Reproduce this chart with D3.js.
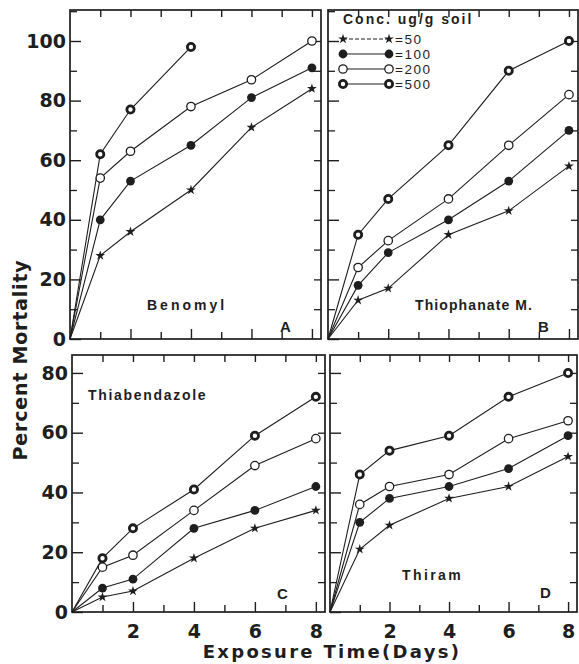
<!DOCTYPE html>
<html>
<head>
<meta charset="utf-8">
<script src="https://cdn.jsdelivr.net/npm/d3@7"></script>
<style>
  body { margin: 0; background: #fff; }
  svg { display: block; }
</style>
</head>
<body>
<div id="container"></div>
<script>
// exposure days (x) for every series
const days = [0, 1, 2, 4, 6, 8];
const concNames = ["50", "100", "200", "500"];
const legendTitle = "Conc. ug/g soil";

// percent mortality
const benomyl50  = [0, 28, 36, 50, 71, 84];
const benomyl100 = [0, 40, 53, 65, 81, 91];
const benomyl200 = [0, 54, 63, 78, 87, 100];
const benomyl500 = [0, 62, 77, 98];            // stops at day 4

const thioph50  = [0, 13, 17, 35, 43, 58];
const thioph100 = [0, 18, 29, 40, 53, 70];
const thioph200 = [0, 24, 33, 47, 65, 82];
const thioph500 = [0, 35, 47, 65, 90, 100];

const thiab50  = [0, 5, 7, 18, 28, 34];
const thiab100 = [0, 8, 11, 28, 34, 42];
const thiab200 = [0, 15, 19, 34, 49, 58];
const thiab500 = [0, 18, 28, 41, 59, 72];

const thiram50  = [0, 21, 29, 38, 42, 52];
const thiram100 = [0, 30, 38, 42, 48, 59];
const thiram200 = [0, 36, 42, 46, 58, 64];
const thiram500 = [0, 46, 54, 59, 72, 80];

const topTicks = [0, 20, 40, 60, 80, 100];
const bottomTicks = [0, 20, 40, 60, 80];
const xLabels = [2, 4, 6, 8];

const ink = "#1e1e1e";

// panel layout
let panels = [
  {name: "Benomyl", letter: "A", left: 70, right: 321, top: 10, bottom: 339, ymax: 110.4,
   series: [benomyl50, benomyl100, benomyl200, benomyl500], ticks: topTicks, labels: true, xlab: false,
   nameX: 147, nameY: 310, nameLS: 3, letterX: 280, letterY: 332},
  {name: "Thiophanate M.", letter: "B", left: 328, right: 578, top: 10, bottom: 339, ymax: 110.4,
   series: [thioph50, thioph100, thioph200, thioph500], ticks: topTicks, labels: false, xlab: false,
   nameX: 415, nameY: 310, nameLS: 1.1, letterX: 538, letterY: 332},
  {name: "Thiabendazole", letter: "C", left: 72, right: 325, top: 355, bottom: 612, ymax: 86,
   series: [thiab50, thiab100, thiab200, thiab500], ticks: bottomTicks, labels: true, xlab: true,
   nameX: 88, nameY: 400, nameLS: 1.7, letterX: 277, letterY: 599},
  {name: "Thiram", letter: "D", left: 330, right: 577, top: 355, bottom: 612, ymax: 86,
   series: [thiram50, thiram100, thiram200, thiram500], ticks: bottomTicks, labels: false, xlab: true,
   nameX: 402, nameY: 580, nameLS: 2.4, letterX: 540, letterY: 598}
];

let svg = d3.select("#container").append("svg")
  .attr("width", 579)
  .attr("height", 664);

// marker drawing per concentration
function drawMarker(g, k, cx, cy) {
  if (k === 0) {
    g.append("path")
      .attr("d", d3.symbol().type(d3.symbolStar).size(30)())
      .attr("transform", "translate(" + cx + "," + cy + ")")
      .attr("fill", ink);
  } else if (k === 1) {
    g.append("circle").attr("cx", cx).attr("cy", cy).attr("r", 4.4).attr("fill", ink);
  } else if (k === 2) {
    g.append("circle").attr("cx", cx).attr("cy", cy).attr("r", 4.2)
      .attr("fill", "#fff").attr("stroke", ink).attr("stroke-width", 1.3);
  } else {
    g.append("circle").attr("cx", cx).attr("cy", cy).attr("r", 3.6)
      .attr("fill", "#fff").attr("stroke", ink).attr("stroke-width", 2.8);
  }
}

panels.forEach(function(p) {
  let x = d3.scaleLinear().domain([0, 8.3]).range([p.left, p.right]);
  let y = d3.scaleLinear().domain([0, p.ymax]).range([p.bottom, p.top]);
  let g = svg.append("g");

  let minor = d3.range(10, p.ymax, 20);
  let allY = d3.range(10, p.ymax - 1, 10);
  let dayTicks = d3.range(1, 9);

  // left axis, major with labels
  let left = g.append("g")
    .attr("transform", "translate(" + p.left + ",0)")
    .call(d3.axisLeft(y).tickValues(p.ticks).tickSize(-11).tickPadding(4)
      .tickFormat(p.labels ? d3.format("d") : ""));
  left.select(".domain").remove();
  left.selectAll("line").attr("stroke", ink).attr("stroke-width", 1.4);
  left.selectAll("text")
    .attr("font-family", "'DejaVu Sans', sans-serif")
    .attr("font-weight", "bold")
    .attr("font-size", 19)
    .attr("fill", ink);

  let leftMinor = g.append("g")
    .attr("transform", "translate(" + p.left + ",0)")
    .call(d3.axisLeft(y).tickValues(minor).tickSize(-7).tickFormat(""));
  leftMinor.select(".domain").remove();
  leftMinor.selectAll("line").attr("stroke", ink).attr("stroke-width", 1.3);

  // right edge ticks
  let right = g.append("g")
    .attr("transform", "translate(" + p.right + ",0)")
    .call(d3.axisRight(y).tickValues(allY).tickSize(-7).tickFormat(""));
  right.select(".domain").remove();
  right.selectAll("line").attr("stroke", ink).attr("stroke-width", 1.3);

  // top ticks
  let topAx = g.append("g")
    .attr("transform", "translate(0," + p.top + ")")
    .call(d3.axisTop(x).tickValues(dayTicks).tickSize(-7).tickFormat(""));
  topAx.select(".domain").remove();
  topAx.selectAll("line").attr("stroke", ink).attr("stroke-width", 1.4);

  // bottom ticks, even days longer
  let bottomAx = g.append("g")
    .attr("transform", "translate(0," + p.bottom + ")")
    .call(d3.axisBottom(x).tickValues(dayTicks).tickSize(-6).tickFormat(""));
  bottomAx.select(".domain").remove();
  bottomAx.selectAll("line")
    .attr("y2", function(d) { return d % 2 === 0 ? -10 : -7; })
    .attr("stroke", ink).attr("stroke-width", 1.4);

  if (p.xlab) {
    let xl = g.append("g")
      .attr("transform", "translate(0," + p.bottom + ")")
      .call(d3.axisBottom(x).tickValues(xLabels).tickSize(0).tickPadding(13));
    xl.select(".domain").remove();
    xl.selectAll("text")
      .attr("font-family", "'DejaVu Sans', sans-serif")
      .attr("font-weight", "bold")
      .attr("font-size", 19)
      .attr("fill", ink);
  }

  // frame
  g.append("rect")
    .attr("x", p.left).attr("y", p.top)
    .attr("width", p.right - p.left).attr("height", p.bottom - p.top)
    .attr("fill", "none").attr("stroke", ink).attr("stroke-width", 1.7);

  // lines
  let line = d3.line()
    .x(function(d, i) { return x(days[i]); })
    .y(function(d) { return y(d); });

  p.series.forEach(function(s) {
    g.append("path")
      .attr("d", line(s))
      .attr("fill", "none")
      .attr("stroke", ink)
      .attr("stroke-width", 1.1);
  });
  p.series.forEach(function(s, k) {
    s.forEach(function(v, i) {
      if (i === 0) return;
      drawMarker(g, k, x(days[i]), y(v));
    });
  });

  // panel name and letter
  g.append("text")
    .attr("x", p.nameX).attr("y", p.nameY)
    .attr("font-family", "'Liberation Sans', Arial, sans-serif")
    .attr("font-weight", "bold")
    .attr("font-size", 14)
    .attr("letter-spacing", p.nameLS)
    .attr("fill", ink)
    .text(p.name);

  g.append("text")
    .attr("x", p.letterX).attr("y", p.letterY)
    .attr("font-family", "'Liberation Sans', Arial, sans-serif")
    .attr("font-weight", "bold")
    .attr("font-size", 15)
    .attr("fill", ink)
    .text(p.letter);
});

// legend in panel B
let legend = svg.append("g");
legend.append("text")
  .attr("x", 343).attr("y", 24)
  .attr("font-family", "'Liberation Sans', Arial, sans-serif")
  .attr("font-weight", "bold")
  .attr("font-size", 14)
  .attr("letter-spacing", 2)
  .attr("fill", ink)
  .text(legendTitle);

let rowY = d3.scalePoint().domain(concNames).range([39, 84]);
concNames.forEach(function(c, k) {
  let ry = rowY(c);
  legend.append("line")
    .attr("x1", 343).attr("x2", 389)
    .attr("y1", ry).attr("y2", ry)
    .attr("stroke", ink)
    .attr("stroke-width", 1.2)
    .attr("stroke-dasharray", k === 0 ? "4,2" : null);
  drawMarker(legend, k, 343, ry);
  drawMarker(legend, k, 389, ry);
  legend.append("text")
    .attr("x", 395).attr("y", ry + 5)
    .attr("font-family", "'Liberation Sans', Arial, sans-serif")
    .attr("font-size", 13.5)
    .attr("letter-spacing", 1.5)
    .attr("fill", ink)
    .text("=" + c);
});

// axis titles
svg.append("text")
  .attr("transform", "translate(27,360) rotate(-90)")
  .attr("text-anchor", "middle")
  .attr("font-family", "'DejaVu Sans', sans-serif")
  .attr("font-weight", "bold")
  .attr("font-size", 19)
  .attr("letter-spacing", 0.8)
  .attr("fill", ink)
  .text("Percent Mortality");

svg.append("text")
  .attr("x", 332).attr("y", 658)
  .attr("text-anchor", "middle")
  .attr("font-family", "'DejaVu Sans', sans-serif")
  .attr("font-weight", "bold")
  .attr("font-size", 18)
  .attr("letter-spacing", 2.3)
  .attr("fill", ink)
  .text("Exposure Time(Days)");
</script>
</body>
</html>
